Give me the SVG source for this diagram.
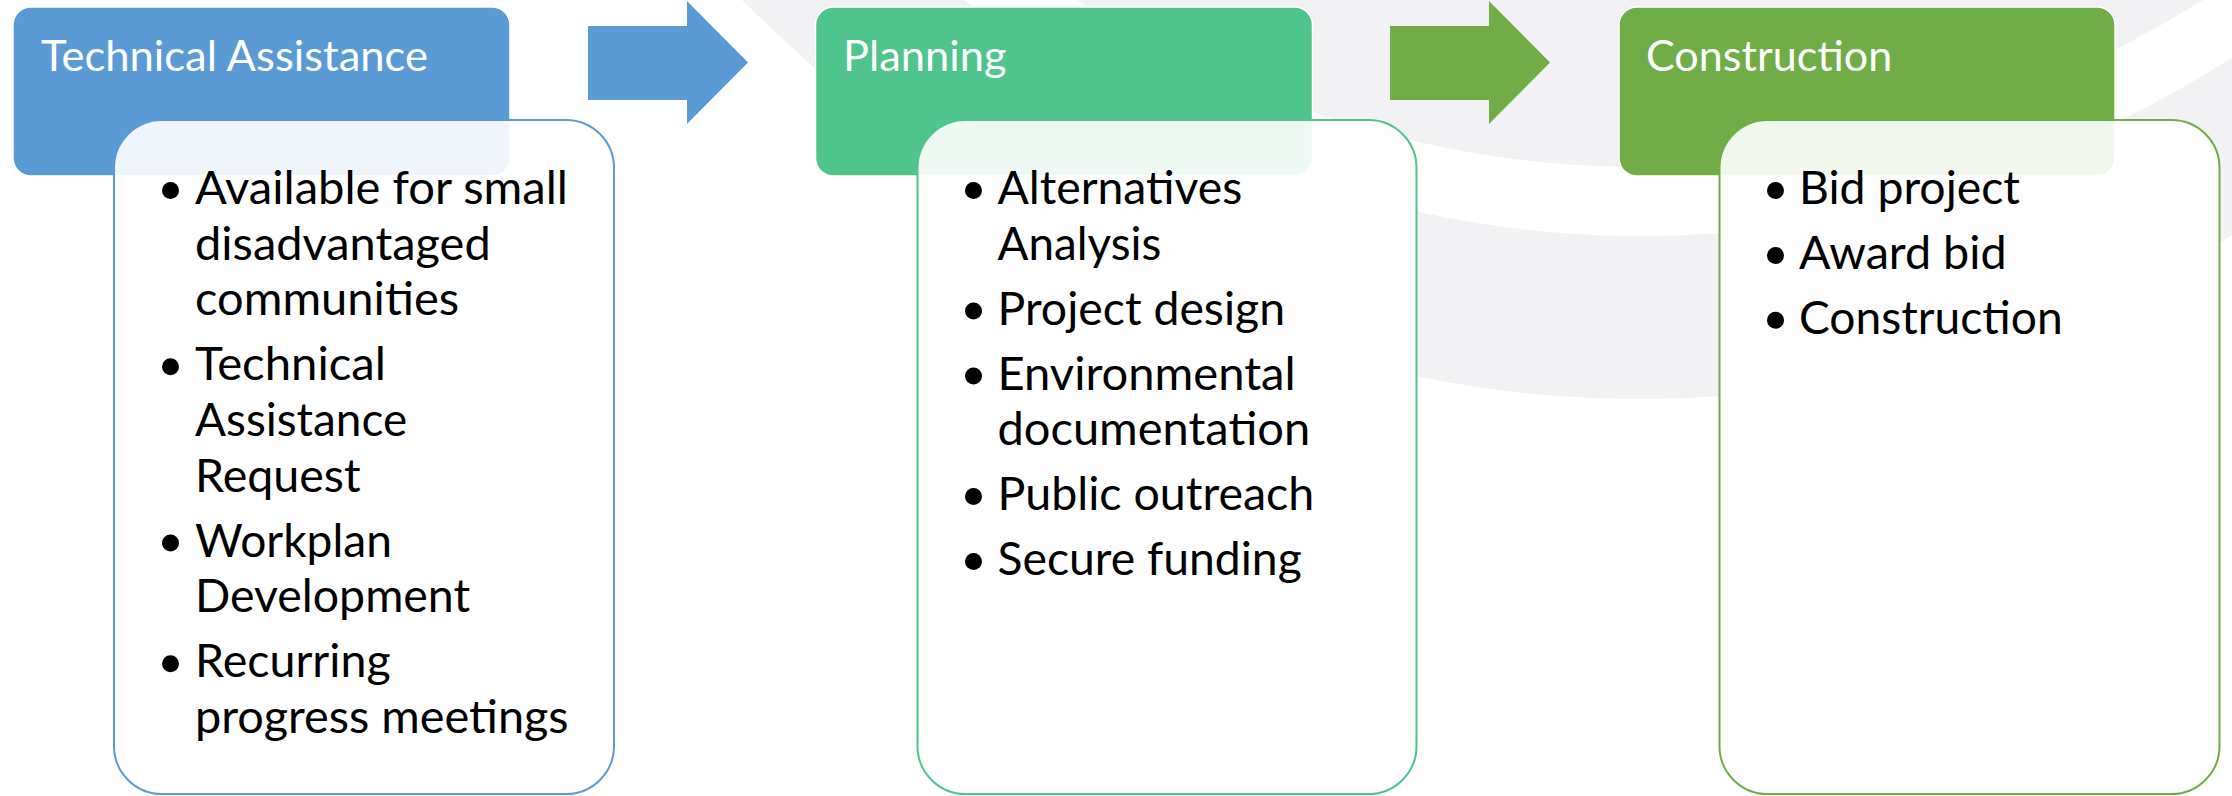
<svg xmlns="http://www.w3.org/2000/svg" width="2232" height="796" viewBox="0 0 2232 796">
  <style>
    .bg { fill: #F2F2F4; }
    .hdr { stroke: #FFFFFF; stroke-width: 1.5; }
    .hdr-text { font-family: Lato, "Open Sans", sans-serif; font-size: 43px; fill: #FFFFFF; }
    .body { fill: #FFFFFF; fill-opacity: 0.9; stroke-width: 2; }
    .item { font-family: Lato, "Open Sans", sans-serif; font-size: 46px; fill: #000000; }
    .dot { fill: #000000; }
    .blue { fill: #5B9BD5; }
    .teal { fill: #4FC48D; }
    .green { fill: #70AD47; }
  </style>
  <rect width="2232" height="796" fill="#FFFFFF"/>
  <g id="background">
    <ellipse class="bg" cx="1640" cy="-1718" rx="1537" ry="2117"/>
    <ellipse cx="1640" cy="-1718" rx="1418.6" ry="1954" fill="#FFFFFF"/>
    <ellipse class="bg" cx="1640" cy="-1718" rx="1368.6" ry="1885"/>
  </g>
  <g id="connectors">
    <path class="blue" d="M588,26 H687 V1 L748,62.5 L687,124 V100 H588 Z"/>
    <path class="green" d="M1390,26 H1489 V1 L1550,62.5 L1489,124 V100 H1390 Z"/>
  </g>
  <g id="node-technical-assistance">
    <rect class="hdr blue" x="13" y="7" width="497" height="169" rx="18"/>
    <text class="hdr-text" x="41" y="71" textLength="387" lengthAdjust="spacingAndGlyphs">Technical Assistance</text>
    <rect class="body" x="114" y="120" width="500" height="674" rx="48" stroke="#5B9BD5"/>
    <circle class="dot" cx="170.5" cy="190.5" r="8.5"/>
    <circle class="dot" cx="170.5" cy="366.8" r="8.5"/>
    <circle class="dot" cx="170.5" cy="543.1" r="8.5"/>
    <circle class="dot" cx="170.5" cy="663.7" r="8.5"/>
    <text class="item" x="195" y="204" textLength="373" lengthAdjust="spacingAndGlyphs">Available for small</text>
    <text class="item" x="195" y="259.7" textLength="295.7" lengthAdjust="spacingAndGlyphs">disadvantaged</text>
    <text class="item" x="195" y="315.4" textLength="264.1" lengthAdjust="spacingAndGlyphs">communities</text>
    <text class="item" x="195" y="380.3" textLength="191" lengthAdjust="spacingAndGlyphs">Technical</text>
    <text class="item" x="195" y="436" textLength="212.1" lengthAdjust="spacingAndGlyphs">Assistance</text>
    <text class="item" x="195" y="491.7" textLength="165.7" lengthAdjust="spacingAndGlyphs">Request</text>
    <text class="item" x="195" y="556.6" textLength="197" lengthAdjust="spacingAndGlyphs">Workplan</text>
    <text class="item" x="195" y="612.3" textLength="275.1" lengthAdjust="spacingAndGlyphs">Development</text>
    <text class="item" x="195" y="677.2" textLength="195.6" lengthAdjust="spacingAndGlyphs">Recurring</text>
    <text class="item" x="195" y="732.9" textLength="373.6" lengthAdjust="spacingAndGlyphs">progress meetings</text>
  </g>
  <g id="node-planning">
    <rect class="hdr teal" x="815.5" y="7" width="497" height="169" rx="18"/>
    <text class="hdr-text" x="843" y="71" textLength="163.5" lengthAdjust="spacingAndGlyphs">Planning</text>
    <rect class="body" x="917.5" y="120" width="499" height="674" rx="48" stroke="#4FC48D"/>
    <circle class="dot" cx="973.5" cy="190.5" r="8.5"/>
    <circle class="dot" cx="973.5" cy="311.1" r="8.5"/>
    <circle class="dot" cx="973.5" cy="376" r="8.5"/>
    <circle class="dot" cx="973.5" cy="496.6" r="8.5"/>
    <circle class="dot" cx="973.5" cy="561.5" r="8.5"/>
    <text class="item" x="997.5" y="204" textLength="244.9" lengthAdjust="spacingAndGlyphs">Alternatives</text>
    <text class="item" x="997.5" y="259.7" textLength="163.8" lengthAdjust="spacingAndGlyphs">Analysis</text>
    <text class="item" x="997.5" y="324.6" textLength="287.6" lengthAdjust="spacingAndGlyphs">Project design</text>
    <text class="item" x="997.5" y="389.5" textLength="298.1" lengthAdjust="spacingAndGlyphs">Environmental</text>
    <text class="item" x="997.5" y="445.2" textLength="312.7" lengthAdjust="spacingAndGlyphs">documentation</text>
    <text class="item" x="997.5" y="510.1" textLength="316.8" lengthAdjust="spacingAndGlyphs">Public outreach</text>
    <text class="item" x="997.5" y="575" textLength="304.2" lengthAdjust="spacingAndGlyphs">Secure funding</text>
  </g>
  <g id="node-construction">
    <rect class="hdr green" x="1619" y="7" width="496" height="169" rx="18"/>
    <text class="hdr-text" x="1646" y="71" textLength="246.3" lengthAdjust="spacingAndGlyphs">Construction</text>
    <rect class="body" x="1719.5" y="120" width="500" height="674" rx="48" stroke="#70AD47"/>
    <circle class="dot" cx="1775.5" cy="190.5" r="8.5"/>
    <circle class="dot" cx="1775.5" cy="255.4" r="8.5"/>
    <circle class="dot" cx="1775.5" cy="320.3" r="8.5"/>
    <text class="item" x="1799" y="204" textLength="221" lengthAdjust="spacingAndGlyphs">Bid project</text>
    <text class="item" x="1799" y="268.9" textLength="207.6" lengthAdjust="spacingAndGlyphs">Award bid</text>
    <text class="item" x="1799" y="333.8" textLength="263.7" lengthAdjust="spacingAndGlyphs">Construction</text>
  </g>
</svg>
